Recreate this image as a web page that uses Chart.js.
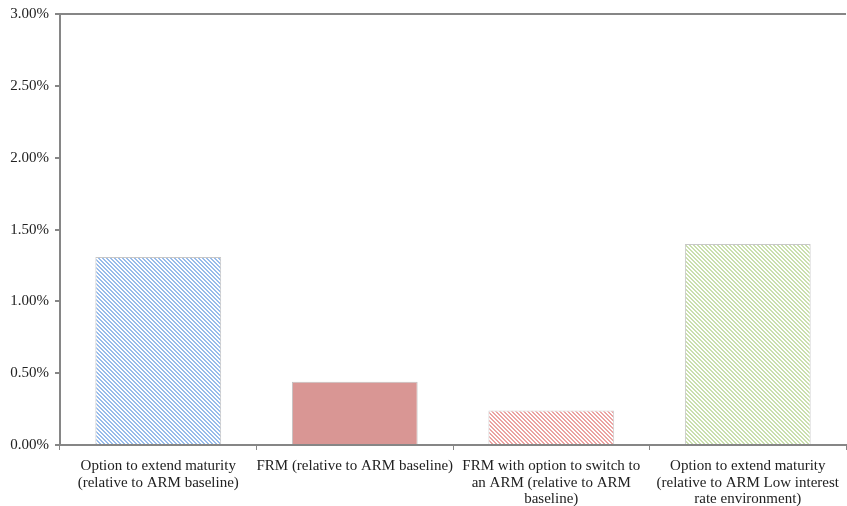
<!DOCTYPE html>
<html>
<head>
<meta charset="utf-8">
<script src="https://cdn.jsdelivr.net/npm/chart.js@4.4.0/dist/chart.umd.min.js"></script>
<style>
  html, body { margin: 0; padding: 0; background: #fff; }
  #wrap { width: 847px; height: 506px; }
</style>
</head>
<body>
<div id="wrap"><canvas id="chart"></canvas></div>
<script>
const categories = [
  ["Option to extend maturity", "(relative to ARM baseline)"],
  ["FRM (relative to ARM baseline)"],
  ["FRM with option to switch to", "an ARM (relative to ARM", "baseline)"],
  ["Option to extend maturity", "(relative to ARM Low interest", "rate environment)"]
];
const values = [1.31, 0.44, 0.24, 1.40];
const yTicks = [0, 0.5, 1, 1.5, 2, 2.5, 3];

// fine diagonal hatching like the Excel pattern fills
function hatch(color) {
  const c = document.createElement("canvas");
  c.width = 4; c.height = 4;
  const g = c.getContext("2d");
  g.fillStyle = "#fff";
  g.fillRect(0, 0, 4, 4);
  g.fillStyle = color;
  for (let i = 0; i < 4; i++) {
    g.fillRect(i, i, 1, 1);
    g.fillRect((i + 1) % 4, i, 1, 1);
  }
  return g.createPattern(c, "repeat");
}

const fills = [hatch("#98bbea"), "#d99694", hatch("#eba3a2"), hatch("#cadfae")];
const borders = ["#c8c8c8", "#c0c0c0", "#d0d0d0", "#c8c8c8"];

const axisFont = { family: "'Liberation Serif', 'DejaVu Serif', serif", size: 15, lineHeight: 1.1 };

new Chart(document.getElementById("chart"), {
  type: "bar",
  data: {
    labels: categories,
    datasets: [{
      data: values,
      backgroundColor: fills,
      borderColor: borders,
      borderWidth: 1,
      barPercentage: 0.64,
      categoryPercentage: 1.0
    }]
  },
  options: {
    responsive: true,
    maintainAspectRatio: false,
    animation: false,
    layout: { padding: { top: 14, right: 0, bottom: 0, left: 0 } },
    plugins: {
      legend: { display: false },
      tooltip: { enabled: false }
    },
    scales: {
      y: {
        min: 0,
        max: 3,
        afterBuildTicks: axis => { axis.ticks = yTicks.map(v => ({ value: v })); },
        afterFit: axis => { axis.width = 60; },
        border: { color: "#868686", width: 2 },
        grid: {
          color: ctx => ctx.tick && ctx.tick.value === 3 ? "#868686" : "rgba(0,0,0,0)",
          lineWidth: 2,
          tickColor: "#868686",
          tickLength: 5
        },
        ticks: {
          color: "#222",
          font: axisFont,
          padding: 6,
          callback: v => v.toFixed(2) + "%"
        }
      },
      x: {
        offset: true,
        afterFit: axis => { axis.height = 61; },
        border: { color: "#868686", width: 2 },
        grid: {
          offset: true,
          color: "rgba(0,0,0,0)",
          tickColor: "#868686",
          tickLength: 5
        },
        ticks: {
          color: "#222",
          font: axisFont,
          maxRotation: 0,
          autoSkip: false,
          padding: 8
        }
      }
    }
  }
});
</script>
</body>
</html>
